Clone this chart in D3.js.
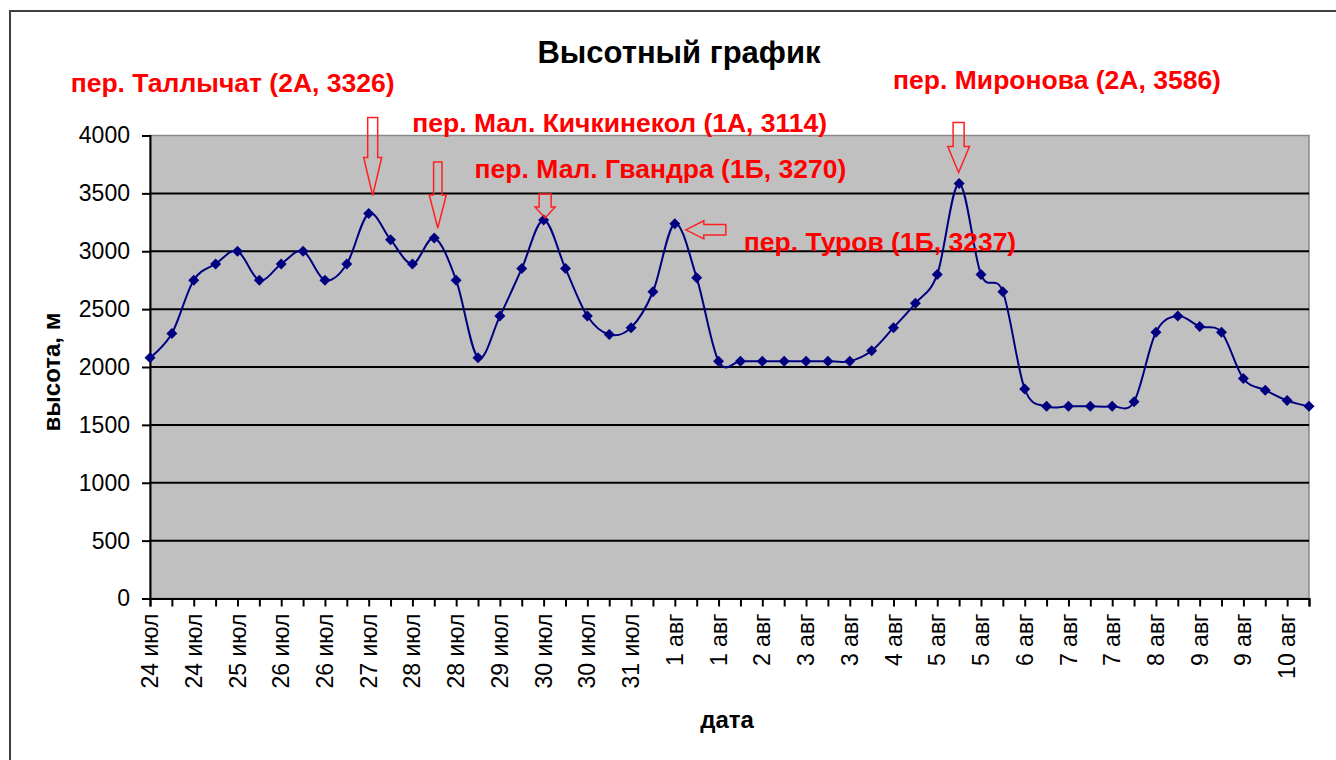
<!DOCTYPE html>
<html><head><meta charset="utf-8">
<script src="https://cdn.jsdelivr.net/npm/d3@7"></script>
<style>
html,body{margin:0;padding:0;background:#fff;}
svg{display:block;font-family:"Liberation Sans",Arial,sans-serif;}
</style></head>
<body>
<svg id="chart" width="1336" height="760"></svg>
<script>
// ---- data ----
const heights = [2080,2290,2750,2890,3000,2750,2890,3000,2750,2890,
  3326,3100,2890,3114,2750,2080,2440,2850,3270,2850,
  2440,2280,2340,2650,3237,2770,2050,2050,2050,2050,
  2050,2050,2050,2140,2340,2550,2800,3586,2800,2650,
  1810,1660,1660,1660,1660,1700,2300,2440,2350,2300,
  1900,1800,1710,1660];
// labels shown on every second category
const tickLabels = ["24 июл","24 июл","25 июл","26 июл","26 июл","27 июл","28 июл","28 июл","29 июл",
  "30 июл","30 июл","31 июл","1 авг","1 авг","2 авг","3 авг","3 авг","4 авг","5 авг","5 авг",
  "6 авг","7 авг","7 авг","8 авг","9 авг","9 авг","10 авг"];
const yTicks = [0,500,1000,1500,2000,2500,3000,3500,4000];
const passIndex = [10,13,18,24,37];
const passNames = ["пер. Таллычат (2А, 3326)","пер. Мал. Кичкинекол (1А, 3114)",
  "пер. Мал. Гвандра (1Б, 3270)","пер. Туров (1Б, 3237)","пер. Миронова (2А, 3586)"];
const titleText = "Высотный график";
const yTitle = "высота, м";
const xTitle = "дата";

// ---- layout ----
const L = 150, R = 1309, T = 135.5, B = 598.5;
const svg = d3.select("#chart");

// outer chart frame
svg.append("path").attr("d","M10,760 L10,11 L1336,11")
  .attr("fill","none").attr("stroke","#404040").attr("stroke-width",2);

const x = d3.scalePoint().domain(d3.range(heights.length)).range([L,R]);
const y = d3.scaleLinear().domain([0,4000]).range([B,T]);

// plot area
svg.append("rect").attr("x",L).attr("y",T).attr("width",R-L).attr("height",B-T)
  .attr("fill","#c0c0c0").attr("stroke","#8a8a8a").attr("stroke-width",1.5);

// gridlines
svg.append("g").selectAll("line").data(yTicks.filter(v=>v>0 && v<4000)).join("line")
  .attr("x1",L).attr("x2",R).attr("y1",d=>y(d)).attr("y2",d=>y(d))
  .attr("stroke","#000").attr("stroke-width",2);

// y axis
const yAxis = svg.append("g").attr("transform",`translate(${L},0)`)
  .call(d3.axisLeft(y).tickValues(yTicks).tickSize(8).tickPadding(12).tickFormat(d3.format("d")));
yAxis.select(".domain").attr("stroke","#000").attr("stroke-width",2);
yAxis.selectAll(".tick line").attr("stroke","#000").attr("stroke-width",2);
yAxis.selectAll(".tick text").attr("font-size",23).attr("fill","#000")
  .attr("font-family","'Liberation Sans',Arial,sans-serif");

// x axis
const xAxis = svg.append("g").attr("transform",`translate(0,${B})`)
  .call(d3.axisBottom(x).tickSize(8).tickFormat(()=>""));
xAxis.select(".domain").attr("stroke","#000").attr("stroke-width",2);
xAxis.selectAll(".tick line").attr("stroke","#000").attr("stroke-width",2);

// x tick labels (every second category)
svg.append("g").selectAll("text").data(tickLabels).join("text")
  .attr("transform",(d,i)=>`translate(${x(i*2)},${B+15}) rotate(-90)`)
  .attr("text-anchor","end").attr("dy","0.35em")
  .attr("font-size",23).attr("fill","#000").text(d=>d);

// line
const line = d3.line().x((d,i)=>x(i)).y(d=>y(d)).curve(d3.curveCatmullRom.alpha(0));
svg.append("path").datum(heights).attr("d",line)
  .attr("fill","none").attr("stroke","#000080").attr("stroke-width",2);

// markers
svg.append("g").selectAll("path").data(heights).join("path")
  .attr("transform",(d,i)=>`translate(${x(i)},${y(d)})`)
  .attr("d","M0,-5.5L5.5,0L0,5.5L-5.5,0Z").attr("fill","#000080");

// titles
svg.append("text").attr("x",679).attr("y",63).attr("text-anchor","middle")
  .attr("font-size",31).attr("font-weight","bold").attr("fill","#000").text(titleText);
svg.append("text").attr("transform","translate(60,372) rotate(-90)").attr("text-anchor","middle")
  .attr("font-size",24).attr("font-weight","bold").attr("fill","#000").text(yTitle);
svg.append("text").attr("x",727).attr("y",728).attr("text-anchor","middle")
  .attr("font-size",24).attr("font-weight","bold").attr("fill","#000").text(xTitle);

// annotations: label offsets relative to the pass point
const labelDx = [-298, -22, -69, 69, -66];
const labelBaseline = [92, 132, 178, 251, 89];
svg.append("g").selectAll("text").data(passIndex).join("text")
  .attr("x",(d,k)=>x(d)+labelDx[k]).attr("y",(d,k)=>labelBaseline[k])
  .attr("font-size",26.5).attr("font-weight","bold").attr("fill","#ff0000")
  .text((d,k)=>passNames[k]);

// block arrows: [dx, gap, headLen, headHalf, shaftLen, shaftHalf, direction]
const arrowGeo = [
  [4, 18, 38, 9, 40, 5, "down"],
  [3.5, 10, 33, 8.5, 33, 4.2, "down"],
  [1.5, 2, 11, 10, 13, 6, "down"],
  [11, -6, 18, 9, 22, 5.3, "left"],
  [-0.5, 11, 26, 10.8, 24, 5.5, "down"]
];
function arrowPath(px, py, g){
  const [dx,gap,hl,hh,sl,sh,dir] = g;
  if(dir==="down"){
    const tx = px+dx, ty = py-gap;
    return `M${tx},${ty} L${tx-hh},${ty-hl} L${tx-sh},${ty-hl} L${tx-sh},${ty-hl-sl} L${tx+sh},${ty-hl-sl} L${tx+sh},${ty-hl} L${tx+hh},${ty-hl} Z`;
  } else {
    const tx = px+dx, ty = py-gap;
    return `M${tx},${ty} L${tx+hl},${ty-hh} L${tx+hl},${ty-sh} L${tx+hl+sl},${ty-sh} L${tx+hl+sl},${ty+sh} L${tx+hl},${ty+sh} L${tx+hl},${ty+hh} Z`;
  }
}
svg.append("g").selectAll("path").data(passIndex).join("path")
  .attr("d",(d,k)=>arrowPath(x(d), y(heights[d]), arrowGeo[k]))
  .attr("fill","none").attr("stroke","#ff2020").attr("stroke-width",1.5);
</script>
</body></html>
